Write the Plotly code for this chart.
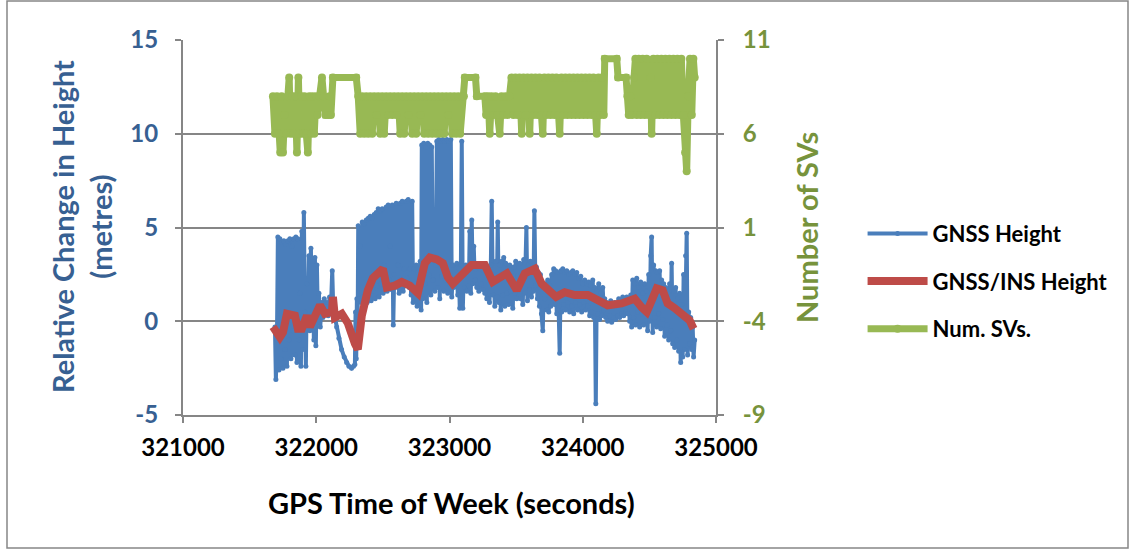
import plotly.graph_objects as go

# ---------------- data ----------------
gnss_t = [
    321690, 321697, 321705, 321712, 321720, 321727, 321735, 321742, 321750, 321757,
    321765, 321772, 321780, 321787, 321795, 321802, 321810, 321817, 321825, 321832,
    321840, 321847, 321855, 321862, 321870, 321877, 321885, 321892, 321900, 321907,
    321915, 321922, 321930, 321937, 321945, 321952, 321960, 321967, 321975, 321982,
    321990, 321997, 322005, 322012, 322020, 322030, 322040, 322050, 322060, 322070,
    322080, 322090, 322100, 322110, 322120, 322128,
    322140, 322153, 322170, 322190, 322210, 322228, 322245, 322265, 322280, 322290,
    322295, 322300, 322305, 322310,
    322315, 322322, 322330, 322337, 322345, 322352, 322360, 322367, 322375, 322382,
    322390, 322397, 322405, 322412, 322420, 322427, 322435, 322442, 322450, 322457,
    322465, 322472, 322480, 322487, 322495, 322502, 322510, 322517, 322525, 322532,
    322540, 322547, 322555, 322562, 322570, 322578, 322585, 322592, 322600, 322607,
    322615, 322622, 322630, 322637, 322645, 322652, 322660, 322667, 322675, 322682,
    322690, 322697, 322705, 322712,
    322720, 322727, 322735, 322742, 322750, 322757, 322765, 322772, 322780, 322787,
    322792, 322800, 322807, 322815, 322822, 322830, 322837, 322845, 322852, 322860,
    322867, 322875, 322882, 322890, 322897, 322905, 322912, 322920, 322927, 322935,
    322942, 322950, 322957, 322965, 322972, 322980, 322987, 322995, 323002, 323010,
    323017, 323025, 323032, 323040, 323047, 323055, 323062, 323070, 323077, 323085,
    323092, 323100, 323107, 323115, 323122, 323130, 323137, 323145,
    323152, 323160, 323167, 323175, 323182, 323190, 323197, 323205, 323212, 323220,
    323227, 323235, 323242, 323250, 323257, 323265, 323272, 323280, 323290, 323300,
    323310, 323317, 323325, 323332, 323340, 323347, 323355, 323362, 323370, 323377,
    323385, 323392, 323400, 323407, 323415, 323422, 323430, 323437, 323445, 323452,
    323460, 323467, 323475, 323482, 323490, 323497, 323505, 323512, 323520, 323527,
    323535, 323542, 323550, 323557, 323565, 323577, 323585, 323592, 323600, 323607,
    323615, 323622, 323630, 323637, 323645, 323652, 323660, 323667, 323675, 323682,
    323690, 323700, 323707, 323715,
    323722, 323730, 323737, 323745, 323752, 323760, 323767, 323775, 323782, 323790,
    323797, 323805, 323812, 323820, 323827, 323835, 323842, 323850, 323857, 323865,
    323872, 323880, 323887, 323895, 323902, 323910, 323917, 323925, 323932, 323940,
    323947, 323955, 323962, 323970, 323977, 323985, 323992, 324000, 324007, 324015,
    324022, 324030, 324037, 324045, 324052, 324060, 324067, 324075, 324082, 324090,
    324098, 324105, 324112, 324120, 324127, 324135, 324142, 324150, 324157, 324165,
    324172, 324180, 324187, 324195, 324202, 324210, 324217, 324225, 324232, 324240,
    324247, 324255, 324262, 324270, 324277, 324285, 324292, 324300, 324307, 324315,
    324322, 324330, 324337, 324345, 324352, 324360, 324367, 324375, 324382, 324390,
    324397, 324405, 324412, 324420, 324427, 324435, 324442, 324450,
    324457, 324465, 324472, 324480, 324487, 324495, 324502, 324510, 324517, 324525,
    324532, 324540, 324547, 324555, 324562, 324570, 324577, 324585, 324592, 324600,
    324607, 324615, 324622, 324630, 324637, 324645, 324652, 324660, 324667, 324675,
    324682, 324690, 324697, 324705, 324712, 324720, 324727, 324735, 324742, 324750,
    324757, 324765, 324772, 324780, 324787, 324795, 324802, 324810, 324817, 324825,
    324832, 324840,
]
gnss_h = [
    -0.3, -3.1, -1.0, 4.5, -2.6, 4.4, -2.0, 4.2, -2.5, 4.3,
    -1.5, 4.1, -2.4, 4.3, -1.0, 4.4, -2.0, 4.0, -0.5, 4.4,
    -1.8, 4.5, -2.2, 4.4, -1.0, 1.5, -2.4, 4.8, -1.5, 5.8,
    0.5, -2.4, 2.0, 0.2, 3.5, -0.5, 3.9, 0.0, 3.2, -1.0,
    3.4, -1.3, 3.0, 0.2, 1.5, -0.3, 1.0, 0.2, 1.2, 0.5,
    1.0, 0.3, 1.3, 0.7, 2.7, 0.6,
    0.2, -0.3, -0.9, -1.5, -1.9, -2.2, -2.4, -2.5, -2.4, -2.3,
    0.5, -2.0, 1.2, -1.0,
    5.1, 1.2, 4.0, 1.0, 5.3, 1.3, 5.2, 1.5, 5.4, 1.0,
    5.5, 1.4, 5.6, 1.1, 5.5, 1.6, 5.7, 1.2, 5.8, 1.9,
    6.0, 1.3, 5.9, 2.0, 6.0, 1.5, 3.0, 1.8, 6.1, 1.6,
    6.2, 2.2, 4.0, 1.7, 6.2, -0.2, 2.5, 1.8, 6.3, 2.0,
    3.0, 1.5, 6.3, 2.2, 6.4, 1.6, 2.8, 1.9, 6.4, 2.3,
    6.5, 1.8, 2.8, 1.4,
    6.4, 1.0, 2.8, 1.3, 3.0, 0.8, 2.6, 1.5, 3.2, 0.6,
    9.4, 1.2, 9.5, 2.0, 9.3, 1.0, 9.5, 2.5, 9.4, 1.4,
    9.3, 2.2, 3.5, 1.6, 3.0, 9.6, 1.8, 9.7, 1.2, 9.6,
    2.4, 9.7, 1.6, 9.6, 2.2, 9.7, 1.5, 9.6, 2.0, 9.7,
    1.3, 3.0, 1.8, 2.5, 2.0, 3.1, 1.4, 2.8, 0.7, 2.6,
    9.6, 0.7, 2.5, 1.8, 3.0, 1.6, 2.7, 1.9,
    4.8, 1.5, 5.4, 2.0, 4.0, 2.2, 2.8, 1.8, 2.9, 1.6,
    2.8, 2.0, 3.0, 1.7, 2.7, 1.5, 2.6, 1.2, 2.5, 1.0,
    3.0, 6.4, 1.4, 2.5, 0.8, 3.2, 1.3, 5.3, 1.0, 3.0,
    0.6, 3.2, 1.4, 3.4, 0.8, 3.1, 1.5, 2.8, 0.9, 3.0,
    1.6, 2.6, 0.7, 2.9, 1.5, 3.2, 1.2, 2.4, 1.8, 3.1,
    1.2, 2.5, 0.9, 3.3, 1.5, 5.0, 1.1, 3.0, 1.7, 3.2,
    1.3, 2.8, 1.6, 5.9, 1.9, 2.9, 1.2, 2.6, 0.8, 2.5,
    0.4, -0.5, 1.8, 1.2,
    2.0, 0.6, 2.2, 0.5, 1.9, 0.8, 2.5, 1.0, 2.8, 0.9,
    2.7, 0.4, 2.6, 0.8, -1.7, 2.7, 0.5, 2.8, 0.9, 2.6,
    0.6, 2.7, 1.0, 2.5, 0.5, 2.6, 0.8, 2.7, 0.4, 2.5,
    1.0, 2.6, 0.6, 2.3, 0.9, 2.4, 0.5, 2.0, 1.0, 2.2,
    0.6, 2.0, 0.8, 2.1, 0.3, 1.9, 0.5, 2.2, 0.2, 1.8,
    -4.4, 1.6, 0.4, 2.0, 0.1, 1.5, 0.3, 1.8, 0.6, 1.2,
    0.2, 1.0, 0.0, 0.9, 0.3, 1.1, -0.05, 0.8, 0.2, 1.0,
    0.1, 0.9, 0.3, 1.2, 0.2, 1.0, 0.4, 1.3, 0.3, 1.1,
    0.5, 1.3, 0.4, 1.2, 0.0, 1.4, -0.3, 2.2, 0.2, 2.0,
    -0.2, 2.3, 0.5, 1.8, -0.3, 2.1, 0.4, 1.5,
    -0.2, 2.0, 0.3, 1.6, -0.5, 2.5, 0.0, 3.5, 4.5, -0.6,
    3.0, 0.2, 2.7, -0.3, 2.6, 0.4, 2.7, -0.4, 2.2, 0.1,
    2.0, -0.8, 1.8, -0.2, 1.5, -1.0, 2.0, -0.5, 3.1, -1.2,
    1.6, -1.4, 1.8, -1.0, 1.2, -1.6, 1.5, -2.2, 0.9, -1.9,
    2.5, -1.5, 3.5, 4.7, -1.8, 0.5, -1.2, 0.2, -1.5, -0.3,
    -1.9, -1.0,
]

ins_t = [
    321675, 321727, 321750, 321780, 321840, 321862, 321892, 321930, 321952, 321990,
    322028, 322065, 322118, 322125, 322140, 322192, 322237, 322290, 322312, 322342,
    322387, 322425, 322478, 322500, 322530, 322590, 322642, 322702, 322762, 322815,
    322852, 322905, 322950, 322987, 323025, 323100, 323152, 323167, 323265, 323325,
    323430, 323505, 323565, 323640, 323692, 323752, 323800, 323865, 323940, 324038,
    324112, 324187, 324292, 324390, 324442, 324480, 324517, 324555, 324600, 324637,
    324690, 324750, 324802, 324832,
]
ins_h = [
    -0.3, -0.85, -0.6, 0.4, 0.3, -0.4, -0.4, 0.3, -0.3, 0.4,
    0.85, 0.4, 0.5, 1.3, 0.2, 0.4, -0.1, -1.2, -1.5, 0.3,
    1.65, 2.3, 2.7, 2.8, 1.8, 1.9, 2.1, 1.9, 1.5, 3.1,
    3.4, 3.3, 3.1, 2.35, 2.0, 2.55, 2.8, 3.0, 3.0, 2.1,
    2.55, 1.65, 2.55, 2.8, 2.0, 1.65, 1.3, 1.55, 1.4, 1.4,
    1.1, 0.85, 0.95, 1.2, 0.75, 0.5, 1.1, 1.75, 1.65, 0.95,
    0.7, 0.4, 0.05, -0.4,
]

sv_t = [
    321675, 321690, 321705, 321720, 321730, 321740, 321750, 321762, 321775, 321787,
    321797, 321807, 321818, 321830, 321842, 321855, 321866, 321876, 321888, 321900,
    321912, 321925, 321937, 321948, 321960, 321972, 321985, 321998, 322010, 322025,
    322043, 322055, 322070, 322090, 322100, 322110, 322125, 322300, 322315,
    322330, 322345, 322360, 322375, 322390, 322405, 322420, 322435, 322450, 322465,
    322480, 322495, 322510, 322525, 322540, 322555, 322570, 322585, 322600, 322615,
    322630, 322645, 322660, 322675, 322690, 322705, 322720, 322735, 322750, 322765,
    322780, 322795, 322810, 322825, 322840, 322855, 322870, 322885, 322900, 322915,
    322930, 322945, 322960, 322975, 322990, 323005, 323020, 323035, 323050, 323065,
    323080, 323095, 323108,
    323115, 323195, 323205, 323265, 323275, 323290, 323302, 323315, 323330, 323345,
    323360, 323377, 323390, 323405, 323420, 323435, 323450,
    323465, 323480, 323495, 323510, 323525, 323542, 323555, 323570, 323585, 323602,
    323615, 323630, 323645, 323660, 323675, 323690, 323700, 323712, 323727, 323742,
    323757, 323772, 323787, 323802, 323815, 323827, 323840, 323855, 323870, 323885,
    323900, 323915, 323930, 323945, 323960, 323975, 323990, 324005, 324020, 324035,
    324050, 324065, 324080, 324093, 324105, 324118, 324130, 324145, 324158,
    324165, 324255, 324265, 324325, 324335, 324345, 324358, 324370, 324385, 324395,
    324405, 324420, 324435, 324450, 324465, 324480, 324495, 324510, 324517, 324530,
    324545, 324560, 324575, 324590, 324605, 324620, 324635, 324650, 324665, 324680,
    324695, 324710, 324725, 324740, 324755, 324768, 324780, 324792, 324805, 324818,
    324830, 324840,
]
sv_n = [
    8, 6, 8, 6, 5, 8, 5, 7, 6, 8,
    9, 6, 8, 6, 8, 5, 9, 6, 8, 6,
    8, 6, 5, 8, 6, 8, 6, 8, 7, 8,
    9, 8, 7, 7, 8, 7, 9, 9, 8,
    6, 8, 6, 8, 6, 8, 6, 8, 7, 8,
    6, 8, 6, 8, 7, 8, 7, 8, 7, 8,
    6, 8, 6, 8, 7, 8, 6, 8, 6, 8,
    7, 8, 6, 8, 6, 8, 6, 8, 6, 8,
    6, 8, 6, 8, 7, 8, 6, 8, 6, 8,
    6, 8, 8,
    9, 9, 8, 8, 7, 8, 6, 8, 7, 8,
    7, 6, 8, 7, 8, 7, 8,
    9, 7, 9, 7, 9, 6, 9, 7, 9, 6,
    9, 7, 9, 7, 9, 7, 6, 9, 7, 9,
    7, 9, 7, 9, 7, 6, 9, 7, 9, 7,
    9, 7, 9, 7, 9, 7, 9, 7, 9, 7,
    9, 7, 9, 7, 6, 9, 7, 9, 7,
    10, 10, 9, 9, 8, 7, 8, 7, 9, 10,
    7, 10, 7, 10, 7, 10, 7, 9, 6, 10,
    7, 10, 7, 10, 7, 10, 7, 10, 7, 10,
    7, 10, 7, 10, 7, 5, 4, 8, 10, 7,
    10, 9,
]

x_ticks = [321000, 322000, 323000, 324000, 325000]
left_ticks = [-5, 0, 5, 10, 15]
right_ticks = [-9, -4, 1, 6, 11]

BLUE = "#4A7EBB"
RED = "#BE4B48"
GREEN = "#98B954"
GRID = "#868686"
FONT = "Lato"
LBLUE = "#376092"
LGREEN = "#77933C"


def b(s):
    return "<b>" + str(s) + "</b>"


fig = go.Figure()
fig.add_trace(go.Scatter(
    x=gnss_t, y=gnss_h, name=b("GNSS Height"), mode="lines+markers",
    line=dict(color=BLUE, width=4), marker=dict(color=BLUE, size=5),
    legendgroup="a", yaxis="y"))
fig.add_trace(go.Scatter(
    x=ins_t, y=ins_h, name=b("GNSS/INS Height"), mode="lines",
    line=dict(color=RED, width=8), legendgroup="b", yaxis="y"))
fig.add_trace(go.Scatter(
    x=sv_t, y=sv_n, name=b("Num. SVs."), mode="lines+markers",
    line=dict(color=GREEN, width=7), marker=dict(color=GREEN, size=8),
    legendgroup="c", yaxis="y2"))

axis_common = dict(showline=True, linecolor=GRID, linewidth=2,
                   ticks="outside", ticklen=6, tickcolor=GRID, tickwidth=2,
                   zeroline=False)

fig.update_layout(
    width=1131, height=553,
    margin=dict(l=183, r=415, t=40, b=138),
    paper_bgcolor="white", plot_bgcolor="white",
    font=dict(family=FONT, size=20, color="black"),
    showlegend=True,
    legend=dict(x=1.275, xanchor="left", y=0.357, yanchor="middle",
                font=dict(family=FONT, size=22, color="black"),
                traceorder="grouped", tracegroupgap=16, itemwidth=60,
                bgcolor="rgba(0,0,0,0)"),
    xaxis=dict(range=[321000, 325000], tickvals=x_ticks,
               ticktext=[b(v) for v in x_ticks],
               showgrid=False, ticklabelstandoff=4,
               tickfont=dict(family=FONT, size=24, color="black", weight=700),
               **axis_common),
    yaxis=dict(range=[-5, 15], tickvals=left_ticks,
               ticktext=[b(v) for v in left_ticks],
               showgrid=True, gridcolor=GRID, gridwidth=2, ticklabelstandoff=12,
               tickfont=dict(family=FONT, size=24, color=LBLUE, weight=700),
               **axis_common),
    yaxis2=dict(range=[-9, 11], tickvals=right_ticks,
                ticktext=[b(v) for v in right_ticks],
                overlaying="y", side="right", showgrid=False, ticklabelstandoff=14,
                tickfont=dict(family=FONT, size=24, color=LGREEN, weight=700),
                **axis_common),
    annotations=[
        dict(text=b("Relative Change in Height") + "<br>" + b("(metres)"),
             xref="paper", yref="paper",
             x=(81 - 183) / 533, y=(415 - 227) / 375, textangle=-90, showarrow=False,
             font=dict(family=FONT, size=29, color=LBLUE),
             xanchor="center", yanchor="middle"),
        dict(text=b("Number of SVs"), xref="paper", yref="paper",
             x=(806 - 183) / 533, y=(415 - 228) / 375, textangle=-90, showarrow=False,
             font=dict(family=FONT, size=29, color=LGREEN),
             xanchor="center", yanchor="middle"),
        dict(text=b("GPS Time of Week (seconds)"), xref="paper", yref="paper",
             x=(451 - 183) / 533, y=(415 - 503) / 375, showarrow=False,
             font=dict(family=FONT, size=29, color="black"),
             xanchor="center", yanchor="middle"),
    ],
    shapes=[
        dict(type="rect", xref="paper", yref="paper",
             x0=(7 - 183) / 533, x1=(1128 - 183) / 533,
             y0=(415 - 548) / 375, y1=(415 - 1) / 375,
             line=dict(color=GRID, width=1.5), fillcolor="rgba(0,0,0,0)", layer="below"),
    ],
)

fig.write_html("out.html")
